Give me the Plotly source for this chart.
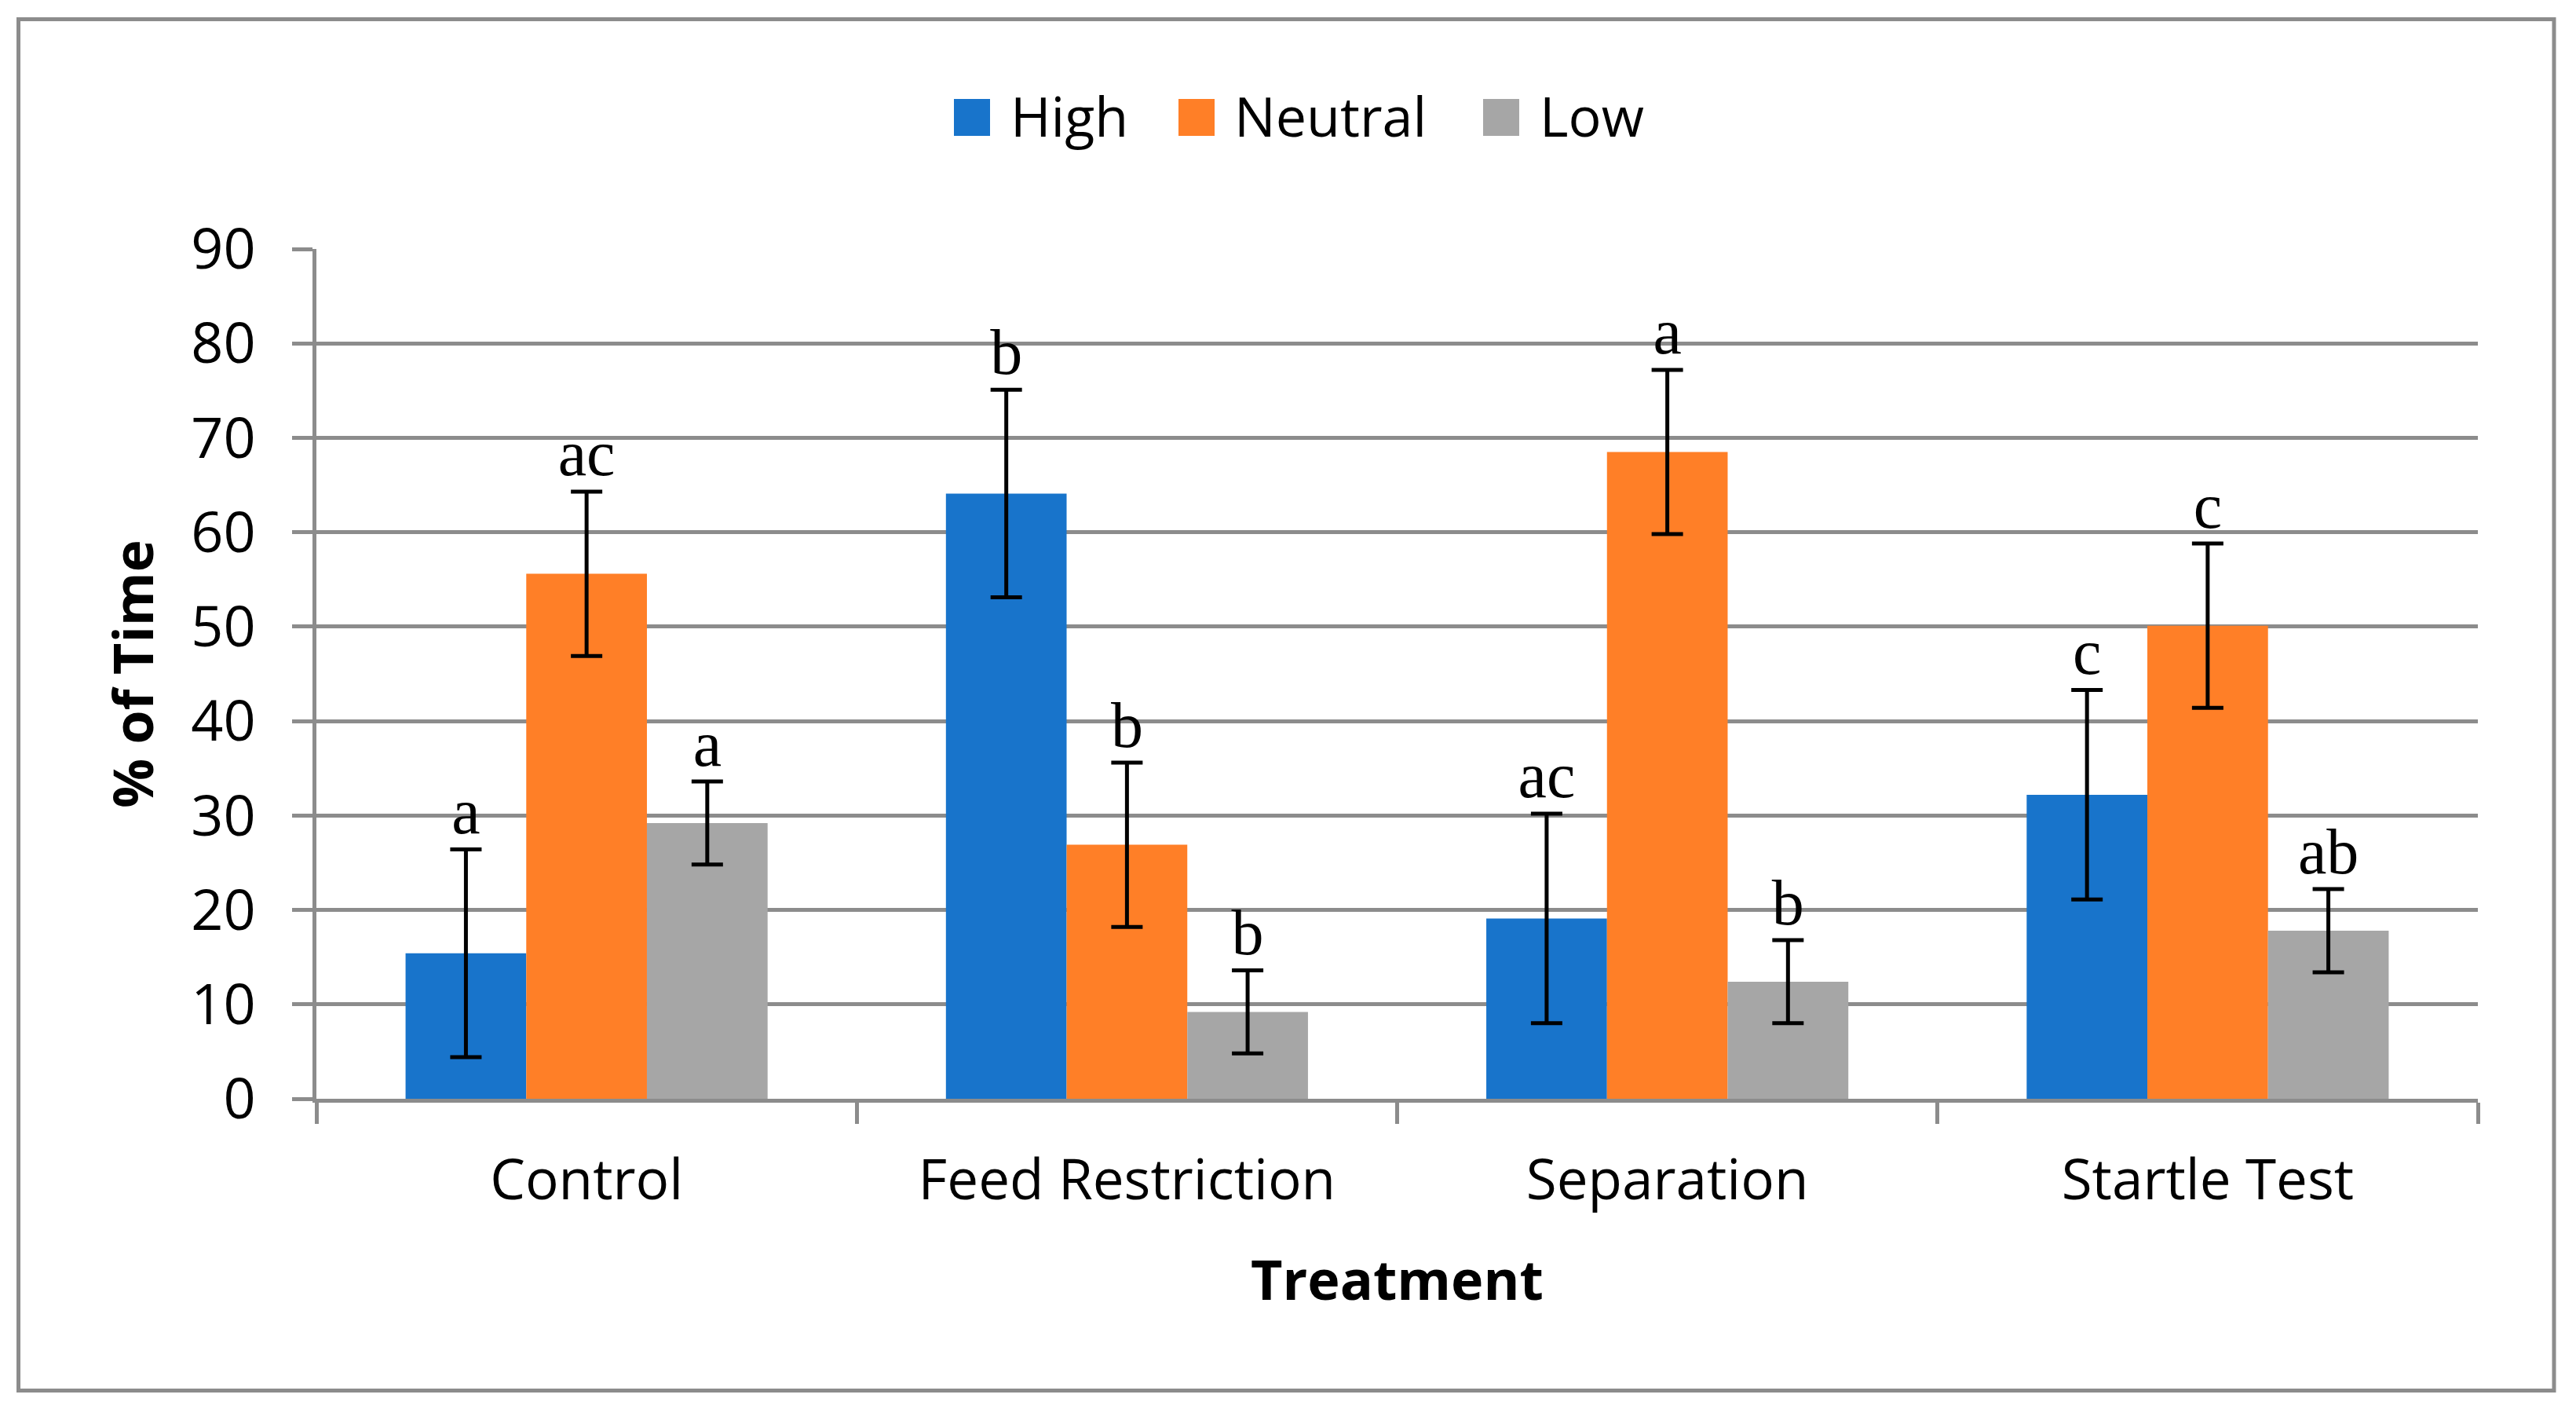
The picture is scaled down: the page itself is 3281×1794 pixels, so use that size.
import plotly.graph_objects as go

categories = ["Control", "Feed Restriction", "Separation", "Startle Test"]
series_names = ["High", "Neutral", "Low"]
high_vals = [15.4, 64.1, 19.1, 32.2]
neutral_vals = [55.6, 26.9, 68.5, 50.1]
low_vals = [29.2, 9.2, 12.4, 17.8]
high_err = [11.0, 11.0, 11.1, 11.1]
neutral_err = [8.7, 8.7, 8.7, 8.7]
low_err = [4.4, 4.4, 4.4, 4.4]
high_letters = ["a", "b", "ac", "c"]
neutral_letters = ["ac", "b", "a", "c"]
low_letters = ["a", "b", "b", "ab"]
y_ticks = [0, 10, 20, 30, 40, 50, 60, 70, 80, 90]

colors = ["#1874CB", "#FF7F27", "#A6A6A6"]
grid_col = "#8C8C8C"

# page geometry (browser body has an 8px margin)
OFF = 8
PX_L, PX_R, PX_T, PX_B = 403, 3156, 317, 1399   # plot area in screen px
W, H = 3281 - OFF, 1794 - OFF
L, T = PX_L - OFF, PX_T - OFF
R, B = 3281 - PX_R, 1794 - PX_B


def px(xp):
    return (xp - PX_L) / (PX_R - PX_L)


def py(yp):
    return (PX_B - yp) / (PX_B - PX_T)


fig = go.Figure()
vals = [high_vals, neutral_vals, low_vals]
errs = [high_err, neutral_err, low_err]
letters = [high_letters, neutral_letters, low_letters]
for i, name in enumerate(series_names):
    fig.add_trace(go.Bar(
        x=categories, y=vals[i], name=name,
        marker=dict(color=colors[i], line=dict(width=0)),
        offsetgroup=str(i), alignmentgroup="g", showlegend=False,
        error_y=dict(type="data", array=errs[i], visible=True,
                     color="black", thickness=5, width=20),
    ))
for i, name in enumerate(series_names):
    tops = [v + e for v, e in zip(vals[i], errs[i])]
    fig.add_trace(go.Scatter(
        x=categories, y=tops, mode="text", text=letters[i],
        textposition="top center", showlegend=False,
        offsetgroup=str(i), alignmentgroup="g",
        textfont=dict(family="Liberation Serif", size=82, color="black"),
        cliponaxis=False, hoverinfo="skip",
    ))

# legend drawn as swatches + labels (screen px positions of the reference legend)
legend_swatch_x = [1215, 1501, 1889]
legend_text_x = [1285, 1570, 1959]
sw_w, sw_top, sw_bot = 46, 126, 173
shapes = [
    dict(type="rect", xref="paper", yref="paper",
         x0=px(23.5), x1=px(3253), y0=py(1770.5), y1=py(24.5),
         line=dict(color=grid_col, width=5), fillcolor="rgba(0,0,0,0)", layer="below"),
]
annotations = [
    dict(text="<b>Treatment</b>", x=0.5, y=py(1628), xref="paper", yref="paper",
         xanchor="center", yanchor="middle", showarrow=False,
         font=dict(family="Open Sans", size=70, color="black")),
    dict(text="<b>% of Time</b>", x=px(168), y=py(858), xref="paper", yref="paper",
         xanchor="center", yanchor="middle", showarrow=False, textangle=-90,
         font=dict(family="Open Sans", size=70, color="black")),
]
for i, name in enumerate(series_names):
    shapes.append(dict(type="rect", xref="paper", yref="paper",
                       x0=px(legend_swatch_x[i]), x1=px(legend_swatch_x[i] + sw_w),
                       y0=py(sw_bot), y1=py(sw_top),
                       line=dict(width=0), fillcolor=colors[i]))
    annotations.append(dict(text=name, x=px(legend_text_x[i]), y=py(147),
                            xref="paper", yref="paper", xanchor="left", yanchor="middle",
                            showarrow=False,
                            font=dict(family="Open Sans", size=70, color="black")))

fig.update_layout(
    width=W, height=H,
    margin=dict(l=L, r=R, t=T, b=B, autoexpand=False),
    paper_bgcolor="white", plot_bgcolor="white",
    barmode="group", bargap=0.33, bargroupgap=0,
    scattermode="group", scattergap=0.33,
    font=dict(family="Open Sans", size=71, color="black"),
    showlegend=False,
    xaxis=dict(
        type="category", categoryorder="array", categoryarray=categories,
        tickson="boundaries", ticks="outside", ticklen=27, tickwidth=5, tickcolor=grid_col,
        showline=True, linecolor=grid_col, linewidth=5, showgrid=False,
        tickfont=dict(family="Open Sans", size=71, color="black"),
        ticklabelstandoff=38,
    ),
    yaxis=dict(
        range=[0, 90], tickvals=y_ticks, ticks="outside", ticklen=26, tickwidth=5,
        tickcolor=grid_col, showline=True, linecolor=grid_col, linewidth=5,
        showgrid=True, gridcolor=grid_col, gridwidth=5, zeroline=False,
        tickfont=dict(family="Open Sans", size=72, color="black"),
        ticklabelstandoff=32,
    ),
    annotations=annotations,
    shapes=shapes,
)

fig.write_html("out.html")
